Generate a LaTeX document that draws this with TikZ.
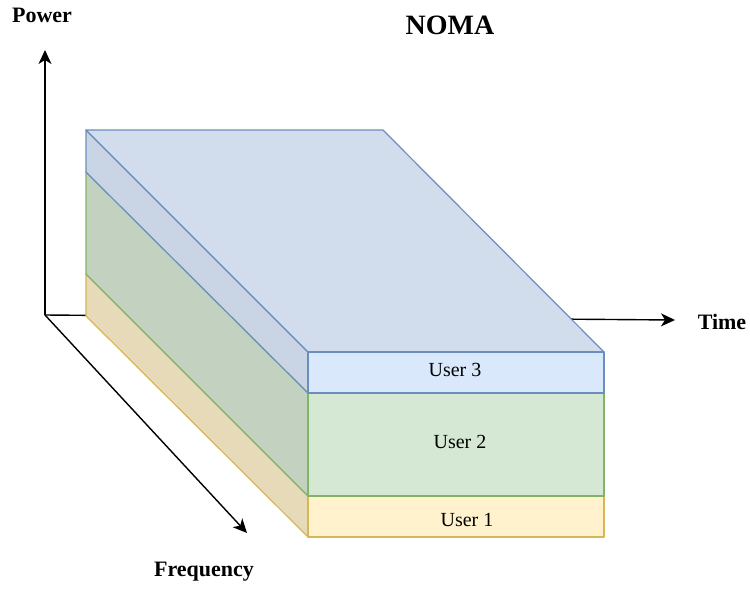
\documentclass[tikz,border=0pt]{standalone}
\usepackage{fontspec}
\setmainfont{Liberation Serif}
\usetikzlibrary{arrows.meta}
\definecolor{userBlue}{HTML}{DAE8FC}
\definecolor{userBlueLine}{HTML}{6C8EBF}
\definecolor{userBlueTop}{HTML}{D1DCEC}
\definecolor{userBlueSide}{HTML}{C9D4E4}
\definecolor{userGreen}{HTML}{D5E8D4}
\definecolor{userGreenLine}{HTML}{82B366}
\definecolor{userGreenSide}{HTML}{C2D1C0}
\definecolor{userYellow}{HTML}{FFF2CC}
\definecolor{userYellowLine}{HTML}{D6B656}
\definecolor{userYellowSide}{HTML}{E6DAB8}
\tikzset{
  axis/.style={line width=1.4pt, -{Stealth[length=14pt, width=13pt, inset=4pt]}},
  axislabel/.style={font=\fontsize{22}{26}\selectfont\bfseries},
  userlabel/.style={font=\fontsize{20}{24}\selectfont},
  layer/.style={line width=1.2pt, line join=round}
}
\begin{document}
\begin{tikzpicture}[x=1pt, y=-1pt]
  \useasboundingbox (0,0) rectangle (750,590);
  % axes
  \coordinate (origin) at (45,315);
  \coordinate (powerEnd) at (45,50);
  \coordinate (timeEnd) at (675,320);
  \coordinate (freqEnd) at (247,533);
  \draw[axis] (origin) -- (powerEnd);
  \draw[axis] (origin) -- (timeEnd);
  \draw[axis] (origin) -- (freqEnd);
  \node[axislabel] (power) at (42,15) {Power};
  \node[axislabel] (time) at (722,322) {Time};
  \node[axislabel] (freq) at (204,572) {Frequency};
  \node[font=\fontsize{28}{32}\selectfont\bfseries] (title) at (450,25) {NOMA};
  % User 1 layer
  \draw[layer, draw=userYellowLine, fill=userYellowSide] (86,274) -- (308,496) -- (308,537) -- (86,316) -- cycle;
  \draw[layer, draw=userYellowLine, fill=userYellow] (308,496) rectangle (604,537);
  \node[userlabel] (user1) at (467,520) {User 1};
  % User 2 layer
  \draw[layer, draw=userGreenLine, fill=userGreenSide] (86,172) -- (308,393) -- (308,496) -- (86,274) -- cycle;
  \draw[layer, draw=userGreenLine, fill=userGreen] (308,393) rectangle (604,496);
  \node[userlabel] (user2) at (460,442) {User 2};
  % User 3 layer with top face
  \draw[layer, draw=userBlueLine, fill=userBlueSide] (86,130) -- (308,352) -- (308,393) -- (86,172) -- cycle;
  \draw[layer, draw=userBlueLine, fill=userBlueTop] (86,130) -- (383,130) -- (604,352) -- (308,352) -- cycle;
  \draw[layer, draw=userBlueLine, fill=userBlue] (308,352) rectangle (604,393);
  \node[userlabel] (user3) at (455,370) {User 3};
\end{tikzpicture}
\end{document}
